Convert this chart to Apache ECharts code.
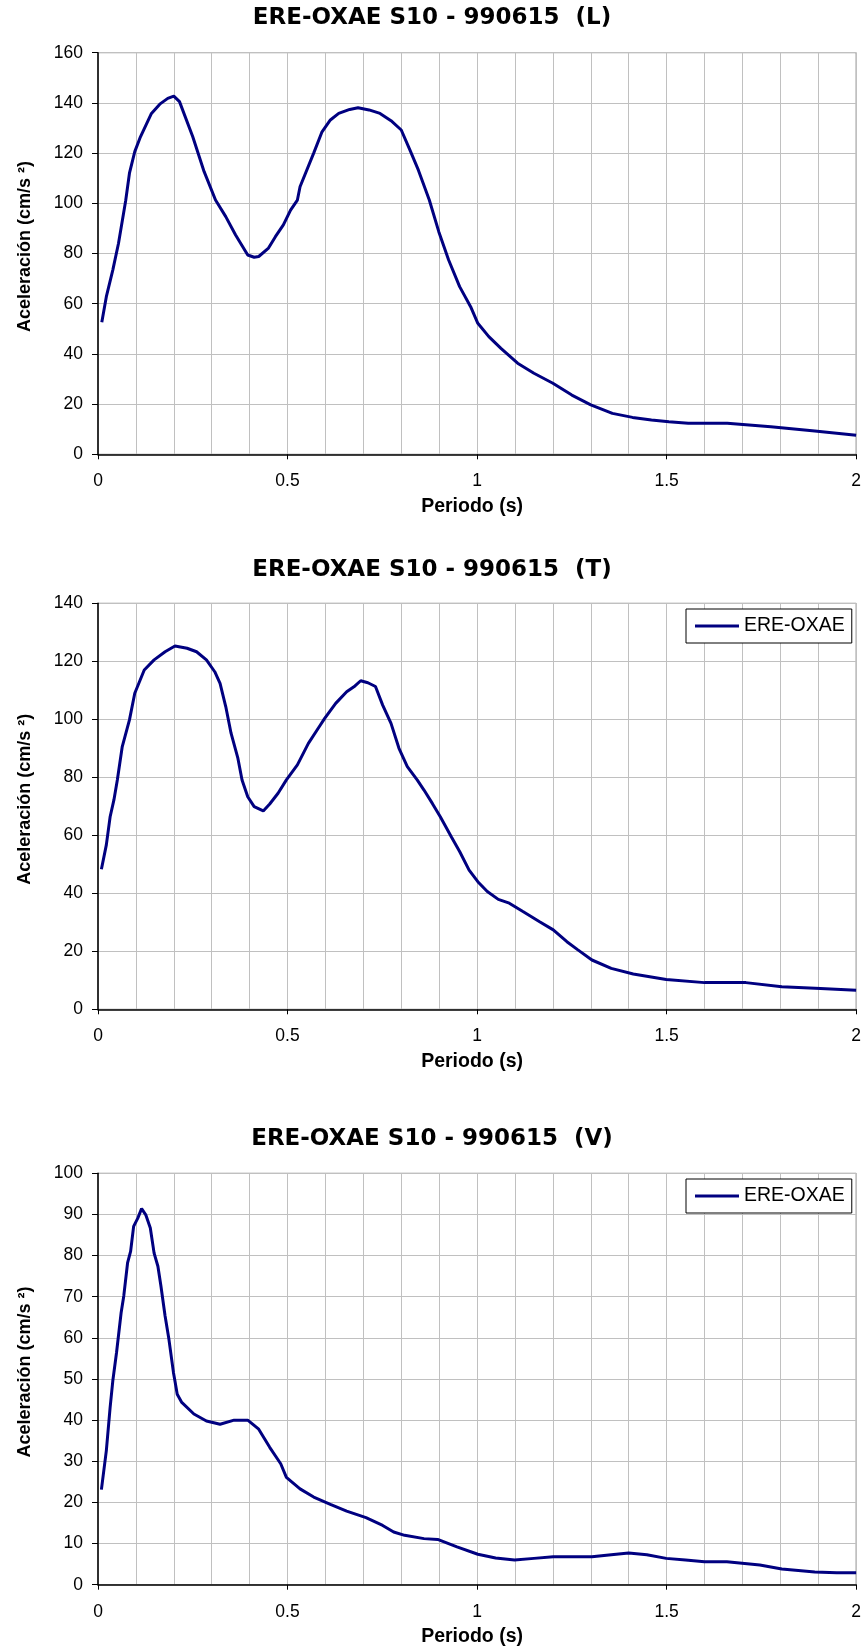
<!DOCTYPE html>
<html>
<head>
<meta charset="utf-8">
<script src="https://cdn.jsdelivr.net/npm/echarts@6/dist/echarts.min.js"></script>
<style>
  html, body { margin: 0; padding: 0; background: #fff; }
  #chart { width: 864px; height: 1652px; }
</style>
</head>
<body>
<div id="chart"></div>
<script>
// Espectros de respuesta, ERE-OXAE S10 - 990615
const titles = ["ERE-OXAE S10 - 990615  (L)", "ERE-OXAE S10 - 990615  (T)", "ERE-OXAE S10 - 990615  (V)"];
const seriesName = "ERE-OXAE";

const periodL = [0.01, 0.022, 0.039, 0.054, 0.073, 0.083, 0.097, 0.112, 0.141, 0.163, 0.184, 0.2, 0.215, 0.25, 0.28, 0.31, 0.337, 0.363, 0.395, 0.412, 0.424, 0.449, 0.468, 0.489, 0.508, 0.526, 0.533, 0.569, 0.591, 0.613, 0.635, 0.664, 0.686, 0.715, 0.744, 0.773, 0.8, 0.823, 0.845, 0.874, 0.899, 0.925, 0.954, 0.983, 1.002, 1.031, 1.063, 1.107, 1.15, 1.2, 1.25, 1.3, 1.357, 1.41, 1.46, 1.506, 1.557, 1.66, 1.775, 1.891, 2.0];
const accelL = [52.6, 62.8, 73.4, 84, 101, 112, 120.6, 126.5, 135.8, 139.5, 141.8, 142.7, 140.5, 126.5, 112.6, 101.3, 94.7, 87.4, 79.4, 78.5, 78.8, 82, 86.7, 91.4, 97.3, 101.3, 106.6, 120, 128.5, 133.2, 135.8, 137.4, 138.1, 137.2, 135.8, 132.9, 129.2, 121.2, 113.3, 101.3, 88.7, 77.4, 66.8, 58.8, 52.2, 46.9, 42.2, 36.3, 32.3, 28.3, 23.6, 19.7, 16.3, 14.7, 13.7, 13, 12.4, 12.4, 11, 9.3, 7.6];

const periodT = [0.009, 0.022, 0.032, 0.042, 0.051, 0.064, 0.083, 0.097, 0.122, 0.148, 0.177, 0.203, 0.235, 0.26, 0.286, 0.308, 0.322, 0.337, 0.351, 0.369, 0.38, 0.395, 0.412, 0.436, 0.453, 0.475, 0.497, 0.526, 0.555, 0.584, 0.598, 0.627, 0.656, 0.678, 0.693, 0.712, 0.732, 0.751, 0.773, 0.794, 0.816, 0.842, 0.86, 0.882, 0.903, 0.932, 0.954, 0.979, 1.002, 1.027, 1.056, 1.085, 1.121, 1.165, 1.201, 1.237, 1.266, 1.303, 1.354, 1.412, 1.499, 1.6, 1.709, 1.804, 1.906, 2.0];
const accelT = [48.3, 56.7, 66.4, 72.2, 79.1, 90.6, 99.8, 109, 117, 120.5, 123.3, 125.3, 124.5, 123.3, 120.5, 116.4, 112.4, 104.4, 95.2, 86.6, 79.1, 73.3, 69.9, 68.4, 70.8, 74.5, 79.1, 84.3, 91.7, 97.5, 100.3, 105.5, 109.5, 111.5, 113.3, 112.6, 111.3, 104.9, 98.6, 90, 83.7, 79.1, 75.6, 71, 66.4, 59.5, 54.4, 48, 44, 40.6, 37.9, 36.6, 33.7, 30.2, 27.4, 23.3, 20.5, 17, 14.1, 12.2, 10.3, 9.2, 9.2, 7.8, 7.2, 6.6];

const periodV = [0.009, 0.022, 0.032, 0.039, 0.049, 0.061, 0.068, 0.078, 0.086, 0.094, 0.105, 0.115, 0.126, 0.138, 0.148, 0.158, 0.166, 0.177, 0.187, 0.199, 0.203, 0.209, 0.221, 0.253, 0.286, 0.322, 0.359, 0.395, 0.424, 0.453, 0.482, 0.497, 0.533, 0.569, 0.613, 0.656, 0.707, 0.751, 0.78, 0.809, 0.86, 0.896, 0.947, 1.002, 1.049, 1.099, 1.15, 1.201, 1.303, 1.354, 1.4, 1.448, 1.499, 1.55, 1.6, 1.659, 1.746, 1.804, 1.891, 1.949, 2.0];
const accelV = [23.1, 32.6, 43.1, 49.5, 56.5, 66.1, 70.2, 78.2, 81, 87.1, 89.1, 91.4, 89.9, 86.7, 80.6, 77.4, 72.6, 65.3, 59.7, 51.6, 49.5, 46.3, 44.3, 41.5, 39.8, 39, 40, 40, 37.8, 33.4, 29.4, 26.1, 23.3, 21.3, 19.5, 17.9, 16.3, 14.4, 12.8, 12, 11.2, 11, 9.2, 7.4, 6.5, 6, 6.4, 6.8, 6.8, 7.3, 7.7, 7.3, 6.4, 6, 5.6, 5.6, 4.8, 3.8, 3.1, 2.9, 2.9];

const yMax = [160, 140, 100];
const yStep = [20, 20, 10];
const xTicks = [0, 0.5, 1, 1.5, 2];

const periods = [periodL, periodT, periodV];
const accels = [accelL, accelT, accelV];

const font = "'Liberation Sans', Arial, sans-serif";
const titleFont = "'DejaVu Sans', 'Liberation Sans', sans-serif";
const gridTops = [52.7, 603.3, 1173.3];
const gridHeights = [401.6, 406, 411.4];
const titleTops = [6.5, 558.5, 1128];
const legendTops = [null, 609, 1179];

const chart = echarts.init(document.getElementById("chart"));

const option = {
  backgroundColor: "#fff",
  animation: false,
  title: [],
  legend: [],
  grid: [],
  xAxis: [],
  yAxis: [],
  series: []
};

for (let i = 0; i < 3; i++) {
  option.title.push({
    text: titles[i],
    left: "center",
    top: titleTops[i],
    padding: [0, 20, 0, 0],
    textStyle: { fontFamily: titleFont, fontSize: 23, fontWeight: "bold", color: "#000" }
  });

  option.grid.push({
    left: 98,
    right: 7,
    top: gridTops[i],
    height: gridHeights[i],
    show: true,
    borderColor: "#808080",
    borderWidth: 1,
    backgroundColor: "#fff"
  });

  option.xAxis.push({
    type: "value",
    gridIndex: i,
    min: xTicks[0],
    max: xTicks[xTicks.length - 1],
    interval: 0.5,
    name: "Periodo (s)",
    nameLocation: "middle",
    nameGap: 42,
    nameTextStyle: { fontFamily: font, fontSize: 19.5, fontWeight: "bold", color: "#000", padding: [0, 10, 0, 0] },
    axisLine: { onZero: false, lineStyle: { color: "#000", width: 1.5 } },
    axisTick: { show: true, length: 5, lineStyle: { color: "#000" } },
    axisLabel: { fontFamily: font, fontSize: 17.5, color: "#000", margin: 18 },
    splitLine: { show: true, lineStyle: { color: "#c0c0c0", width: 1 } },
    minorTick: { show: false, splitNumber: 5 },
    minorSplitLine: { show: true, lineStyle: { color: "#c0c0c0", width: 1 } }
  });

  option.yAxis.push({
    type: "value",
    gridIndex: i,
    min: 0,
    max: yMax[i],
    interval: yStep[i],
    name: "Aceleración (cm/s ²)",
    nameLocation: "middle",
    nameGap: 64,
    nameTextStyle: { fontFamily: font, fontSize: 18, fontWeight: "bold", color: "#000", padding: [0, 0, 0, 14] },
    axisLine: { show: true, lineStyle: { color: "#000", width: 1.5 } },
    axisTick: { show: true, length: 6, lineStyle: { color: "#000" } },
    axisLabel: { fontFamily: font, fontSize: 17.5, color: "#000", margin: 15 },
    splitLine: { show: true, lineStyle: { color: "#c0c0c0", width: 1 } }
  });

  option.series.push({
    name: i === 0 ? seriesName + " L" : seriesName,
    type: "line",
    xAxisIndex: i,
    yAxisIndex: i,
    showSymbol: false,
    symbol: "none",
    lineStyle: { color: "#000080", width: 3 },
    itemStyle: { color: "#000080" },
    data: periods[i].map((t, k) => [t, accels[i][k]])
  });

  if (legendTops[i] !== null) {
    option.legend.push({
      data: [seriesName],
      left: 686,
      top: legendTops[i],
      orient: "vertical",
      icon: "rect",
      itemWidth: 44,
      itemHeight: 3,
      padding: [7, 7, 7, 9],
      borderColor: "#000",
      borderWidth: 1,
      borderRadius: 0,
      backgroundColor: "#fff",
      selectedMode: false,
      textStyle: { fontFamily: font, fontSize: 19.5, color: "#000" }
    });
  }
}

chart.setOption(option);
</script>
</body>
</html>
